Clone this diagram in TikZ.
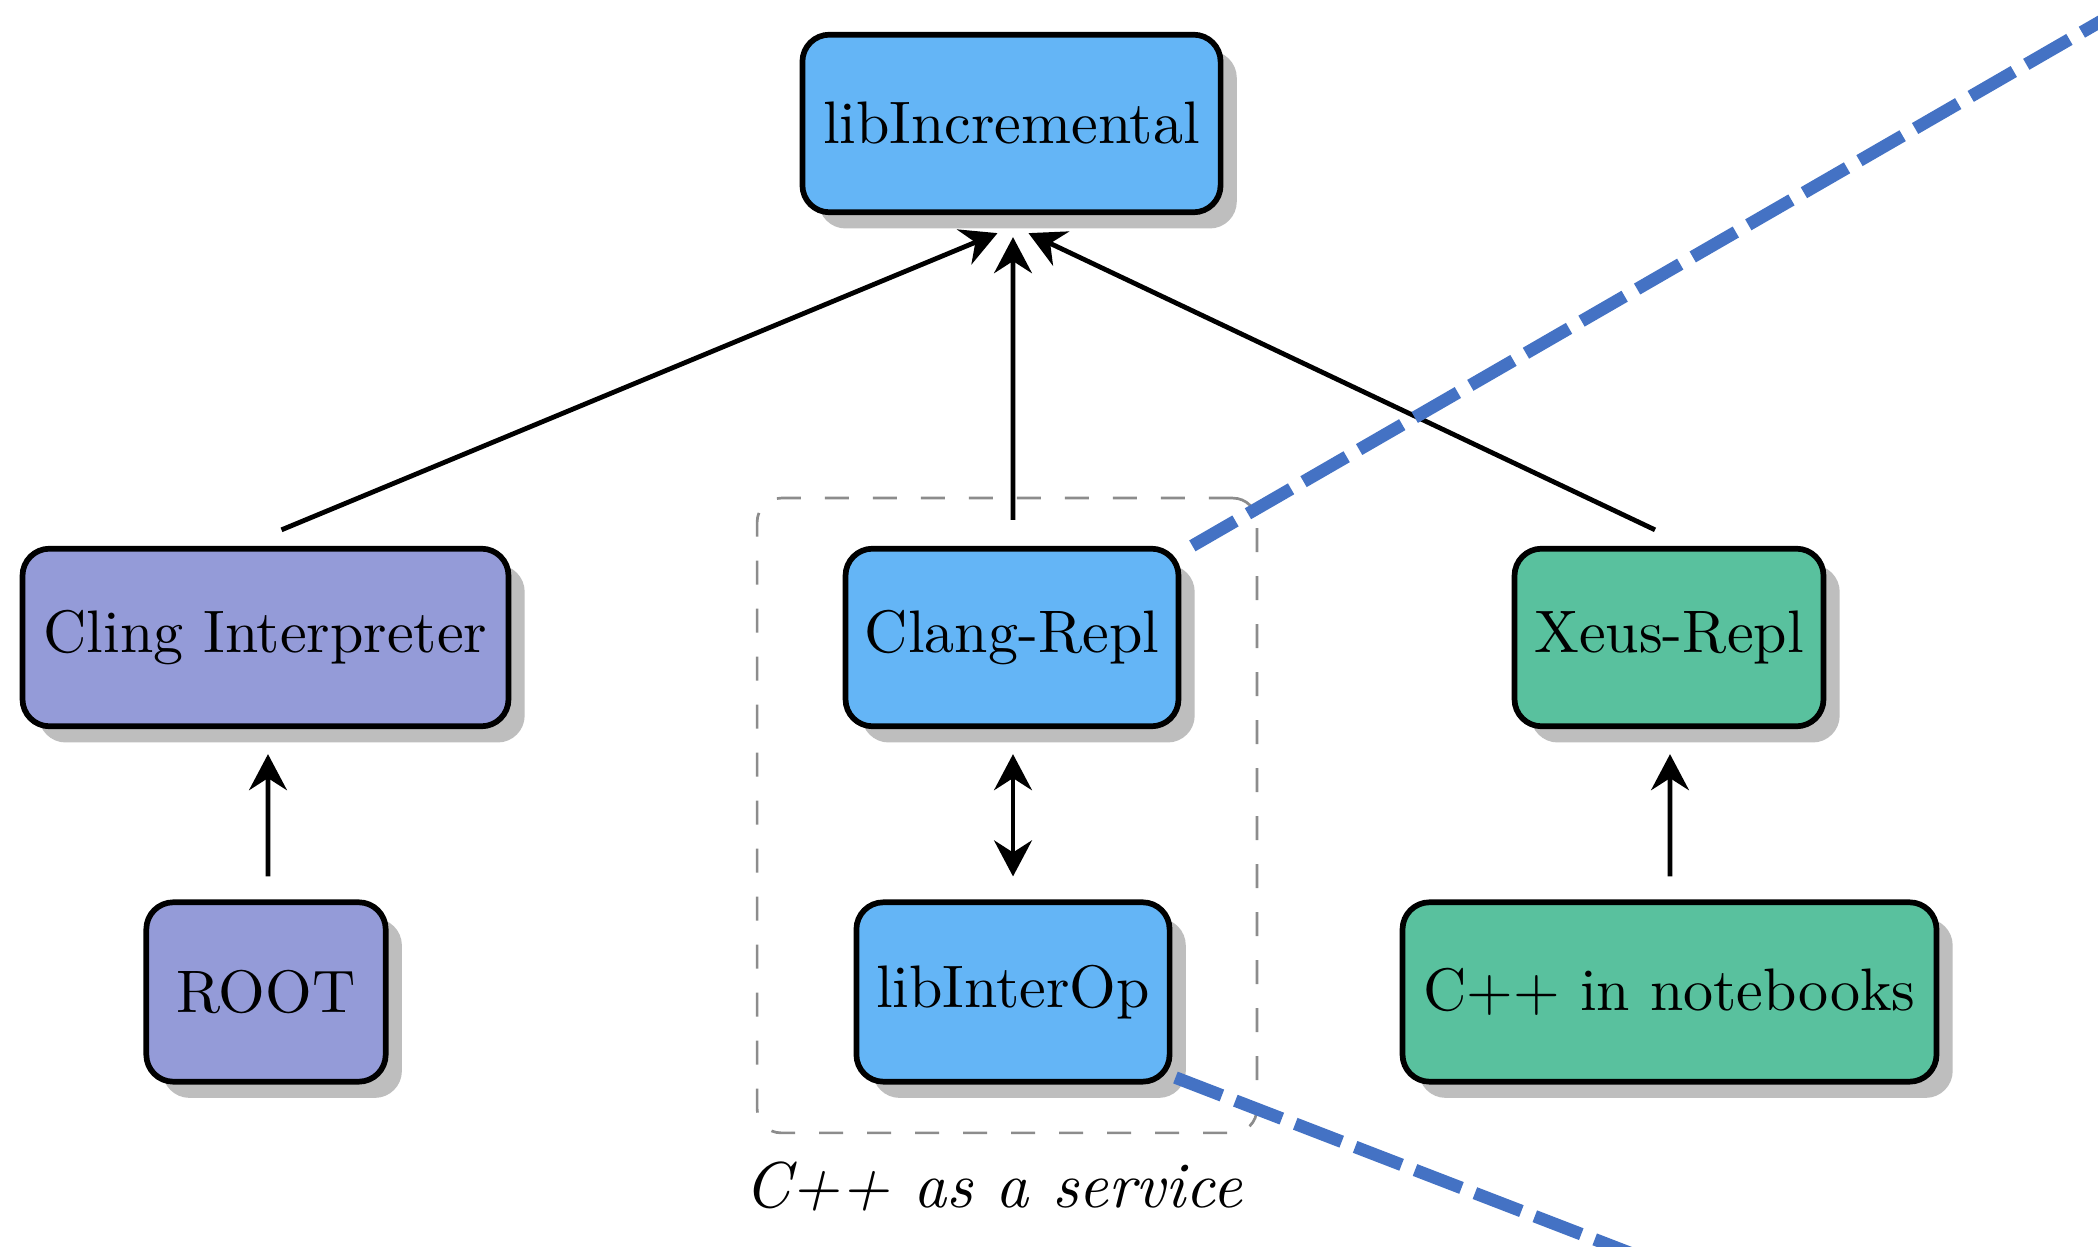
\documentclass[tikz,border=0pt]{standalone}
\usetikzlibrary{shadows,arrows.meta,calc}
\definecolor{boxblue}{RGB}{100,181,246}
\definecolor{boxpurple}{RGB}{148,155,216}
\definecolor{boxgreen}{RGB}{89,193,158}
\definecolor{callout}{RGB}{68,114,196}
\definecolor{shadowgray}{RGB}{190,190,190}
\definecolor{groupgray}{RGB}{140,140,140}
\tikzset{
  box/.style={draw=black, line width=0.95pt, rounded corners=4.5pt,
    minimum height=29.6pt, inner sep=0pt, font=\normalsize,
    drop shadow={shadow xshift=2.7pt, shadow yshift=-2.7pt, fill=shadowgray, opacity=1}},
  bluebox/.style={box, fill=boxblue},
  purplebox/.style={box, fill=boxpurple},
  greenbox/.style={box, fill=boxgreen},
  arrtip/.tip={Stealth[length=6pt, width=6.3pt, inset=2pt]},
  arr/.style={line width=0.8pt, -arrtip},
  biarr/.style={line width=0.8pt, arrtip-arrtip},
  groupbox/.style={draw=groupgray, line width=0.45pt, dash pattern=on 4pt off 4pt,
    rounded corners=4pt, inner sep=0pt},
  calloutline/.style={draw=callout, line width=2.1pt, dash pattern=on 8.3pt off 2.4pt}
}
\begin{document}
\begin{tikzpicture}[x=0.166667pt, y=-0.166667pt]
\path[use as bounding box, clip] (0,0) rectangle (2098,1247);
\fill[white] (0,0) rectangle (2098,1247);

% group box
\node[groupbox, minimum width=83.3pt, minimum height=105.8pt] (grp) at (1007,815.5) {};
\node[anchor=base, font=\fontsize{10.8}{13}\selectfont\itshape] (cap) at (993,1207) {C++ as a service};

% nodes
\node[bluebox, minimum width=69.7pt] (inc) at (1011.5,123.5) {libIncremental};
\node[purplebox, minimum width=81pt] (cling) at (265.5,637.5) {Cling Interpreter};
\node[bluebox, minimum width=55.5pt] (clang) at (1012,637.5) {Clang-Repl};
\node[greenbox, minimum width=51.5pt] (xeus) at (1669,637.5) {Xeus-Repl};
\node[purplebox, minimum width=39.9pt, minimum height=29.9pt] (root) at (266,992) {ROOT};
\node[bluebox, minimum width=52.2pt, minimum height=29.9pt] (interop) at (1013,992) {libInterOp};
\node[greenbox, minimum width=89pt, minimum height=29.9pt] (nb) at (1669.5,992) {C++ in notebooks};

% connectors
\draw[arr] ($(cling.north)+(16,-16)$) -- ($(inc.south)+(-14,18)$);
\draw[arr] ($(clang.north)+(1,-26)$) -- ($(inc.south)+(1.5,22)$);
\draw[arr] ($(xeus.north)+(-14,-16)$) -- ($(inc.south)+(17,18)$);
\draw[arr] ($(root.north)+(2,-23)$) -- ($(cling.south)+(2.5,25)$);
\draw[biarr] ($(clang.south)+(1,25)$) -- ($(interop.north)+(0,-23)$);
\draw[arr] ($(nb.north)+(0.5,-23)$) -- ($(xeus.south)+(1,25)$);

% callout lines
\coordinate (z1) at (2200,-36);
\coordinate (z2) at (1700,1280);
\draw[calloutline] ($(clang.north east)+(11,0)$) -- (z1);
\draw[calloutline] ($(interop.south east)+(3,-7)$) -- (z2);
\end{tikzpicture}
\end{document}
